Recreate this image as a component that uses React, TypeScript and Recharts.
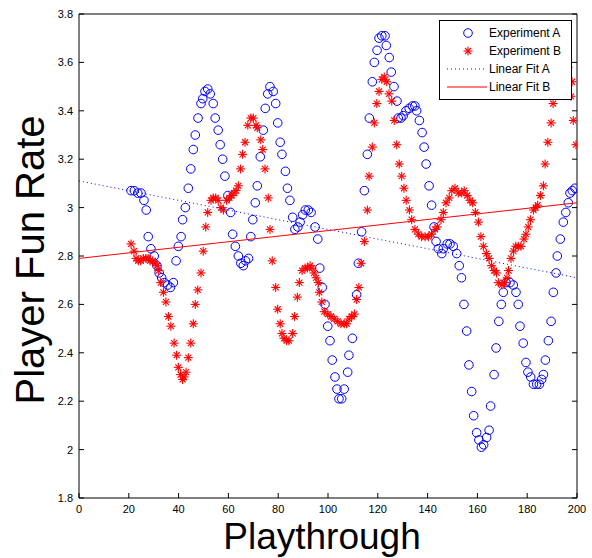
import { ScatterChart, Scatter, XAxis, YAxis, Legend } from "recharts";

// Experiment A: [playthrough, fun rate]
const expA: [number, number][] = [
  [20.9, 3.07], [22.2, 3.07], [23.6, 3.06], [24.9, 3.06], [26.1, 3.03], [27.0, 2.99], [27.8, 2.88], [28.9, 2.83],
  [30.2, 2.8], [31.3, 2.76], [32.2, 2.73], [33.2, 2.71], [34.3, 2.69], [35.6, 2.68], [36.7, 2.67], [37.9, 2.69],
  [39.0, 2.78], [39.9, 2.84], [41.0, 2.88], [41.6, 2.95], [42.7, 3.0], [43.9, 3.08], [44.9, 3.16], [45.9, 3.24],
  [46.7, 3.3], [47.8, 3.37], [49.0, 3.43], [49.7, 3.45], [50.6, 3.48], [51.7, 3.49], [52.7, 3.47], [53.9, 3.43],
  [54.7, 3.37], [55.9, 3.32], [56.7, 3.26], [57.7, 3.2], [58.6, 3.13], [59.8, 3.05], [60.9, 2.98], [61.7, 2.89],
  [62.8, 2.84], [64.0, 2.8], [65.0, 2.77], [66.0, 2.76], [66.9, 2.78], [68.1, 2.79], [69.0, 2.88], [69.8, 2.95],
  [70.8, 3.02], [71.6, 3.09], [72.8, 3.21], [74.0, 3.32], [74.8, 3.41], [75.8, 3.47], [76.7, 3.5], [78.0, 3.48],
  [79.0, 3.43], [79.8, 3.35], [80.8, 3.27], [81.5, 3.22], [82.9, 3.15], [83.7, 3.08], [84.7, 3.03], [85.8, 2.96],
  [86.7, 2.91], [87.9, 2.92], [88.8, 2.94], [89.8, 2.97], [90.9, 2.99], [92.1, 2.99], [93.2, 2.98], [94.8, 2.92],
  [95.9, 2.87], [96.7, 2.75], [97.7, 2.67], [98.8, 2.6], [99.9, 2.51], [100.8, 2.45], [101.7, 2.37], [102.8, 2.3],
  [103.6, 2.25], [104.4, 2.21], [105.5, 2.21], [106.5, 2.25], [107.9, 2.32], [108.4, 2.39], [109.8, 2.46], [111.5, 2.64],
  [112.2, 2.77], [113.5, 2.9], [114.6, 3.07], [115.8, 3.22], [116.6, 3.37], [117.8, 3.52], [118.6, 3.6], [119.7, 3.65],
  [120.5, 3.7], [121.6, 3.71], [122.9, 3.71], [123.4, 3.67], [124.6, 3.62], [125.4, 3.56], [126.5, 3.5], [127.7, 3.44],
  [128.2, 3.37], [129.3, 3.37], [130.2, 3.38], [131.3, 3.4], [132.6, 3.41], [133.9, 3.42], [134.9, 3.42], [135.6, 3.4],
  [136.7, 3.36], [137.8, 3.31], [138.6, 3.25], [139.4, 3.18], [140.6, 3.09], [141.6, 3.01], [142.6, 2.92], [143.4, 2.86],
  [144.3, 2.83], [145.7, 2.81], [146.3, 2.83], [147.9, 2.85], [149.0, 2.85], [150.3, 2.84], [151.7, 2.81], [152.7, 2.76],
  [153.6, 2.71], [154.6, 2.6], [155.7, 2.49], [156.6, 2.35], [157.7, 2.24], [158.5, 2.14], [159.7, 2.07], [160.6, 2.04],
  [161.6, 2.01], [162.5, 2.02], [163.7, 2.05], [164.7, 2.08], [165.3, 2.18], [166.7, 2.31], [167.5, 2.42], [168.6, 2.53],
  [169.6, 2.6], [170.4, 2.65], [171.5, 2.69], [173.1, 2.69], [174.4, 2.68], [175.5, 2.65], [176.4, 2.6], [177.1, 2.51],
  [178.4, 2.44], [179.5, 2.36], [180.3, 2.32], [181.4, 2.3], [182.5, 2.27], [183.8, 2.27], [184.9, 2.27], [185.8, 2.29],
  [186.5, 2.31], [187.3, 2.37], [188.5, 2.45], [189.6, 2.53], [190.5, 2.65], [191.6, 2.73], [192.1, 2.8], [193.3, 2.87],
  [194.5, 2.94], [195.5, 2.98], [196.5, 3.02], [197.2, 3.06], [198.1, 3.07], [199.2, 3.08],
];

// Experiment B: [playthrough, fun rate]
const expB: [number, number][] = [
  [20.9, 2.85], [22.1, 2.82], [22.9, 2.79], [23.8, 2.78], [24.8, 2.78], [25.8, 2.79], [26.9, 2.79], [27.8, 2.79],
  [28.5, 2.78], [29.6, 2.78], [30.6, 2.77], [31.4, 2.76], [32.0, 2.74], [32.8, 2.69], [33.9, 2.65], [34.9, 2.61],
  [35.9, 2.55], [36.9, 2.51], [38.2, 2.44], [39.2, 2.39], [39.9, 2.34], [40.8, 2.31], [41.6, 2.29], [42.2, 2.3],
  [43.0, 2.32], [43.9, 2.38], [44.9, 2.44], [45.9, 2.52], [46.7, 2.6], [47.7, 2.66], [49.0, 2.73], [49.9, 2.82],
  [50.9, 2.92], [51.7, 2.98], [53.0, 3.03], [53.9, 3.04], [54.9, 3.04], [55.9, 3.03], [57.0, 3.0], [58.0, 2.99],
  [59.3, 3.03], [60.4, 3.04], [61.3, 3.05], [62.2, 3.06], [63.1, 3.07], [64.0, 3.09], [64.9, 3.16], [65.7, 3.22],
  [66.7, 3.27], [67.8, 3.34], [69.0, 3.37], [70.0, 3.37], [71.1, 3.34], [71.6, 3.33], [73.0, 3.28], [73.8, 3.24],
  [74.7, 3.16], [76.0, 3.04], [76.7, 2.91], [77.6, 2.78], [79.0, 2.67], [79.8, 2.58], [80.8, 2.52], [81.5, 2.48],
  [82.3, 2.46], [83.4, 2.45], [84.3, 2.45], [85.8, 2.48], [86.6, 2.55], [87.7, 2.63], [88.5, 2.69], [89.6, 2.74],
  [90.8, 2.75], [91.7, 2.75], [92.8, 2.76], [93.6, 2.75], [94.4, 2.73], [95.2, 2.71], [96.1, 2.69], [96.5, 2.65],
  [97.5, 2.61], [98.5, 2.57], [99.9, 2.56], [101.2, 2.55], [102.5, 2.54], [103.9, 2.53], [105.2, 2.52], [106.5, 2.52],
  [107.5, 2.52], [108.4, 2.54], [109.5, 2.55], [110.6, 2.56], [111.5, 2.62], [112.4, 2.67], [113.3, 2.77], [114.6, 2.86],
  [115.8, 2.99], [116.5, 3.13], [117.8, 3.25], [118.6, 3.35], [119.6, 3.43], [120.5, 3.48], [121.6, 3.53], [122.6, 3.54],
  [123.6, 3.52], [124.5, 3.47], [125.6, 3.44], [126.6, 3.36], [127.6, 3.26], [128.6, 3.18], [129.6, 3.13], [130.5, 3.08],
  [131.4, 3.03], [132.7, 2.99], [133.6, 2.95], [134.9, 2.91], [136.3, 2.89], [137.6, 2.88], [139.0, 2.88], [140.3, 2.88],
  [141.6, 2.89], [143.0, 2.91], [143.9, 2.92], [145.4, 2.95], [146.3, 2.98], [147.4, 3.02], [148.7, 3.04], [149.7, 3.07],
  [151.0, 3.08], [152.3, 3.06], [153.7, 3.06], [154.7, 3.07], [155.9, 3.05], [157.0, 3.03], [158.1, 3.02], [159.2, 2.98],
  [160.4, 2.94], [161.4, 2.88], [162.4, 2.84], [163.6, 2.81], [164.7, 2.79], [165.7, 2.76], [166.7, 2.74], [167.7, 2.73],
  [168.4, 2.69], [169.8, 2.68], [170.9, 2.69], [171.9, 2.71], [172.5, 2.74], [173.5, 2.79], [174.5, 2.82], [175.4, 2.84],
  [176.4, 2.84], [177.5, 2.84], [178.7, 2.87], [179.5, 2.89], [180.4, 2.92], [181.3, 2.95], [182.5, 2.99], [183.4, 3.0],
  [184.2, 3.01], [185.3, 3.05], [186.5, 3.09], [187.2, 3.18], [188.3, 3.27], [189.6, 3.35], [190.4, 3.43], [191.6, 3.5],
  [193.2, 3.56], [194.8, 3.6], [196.4, 3.58], [198.0, 3.52], [197.6, 3.46], [198.5, 3.36], [199.6, 3.26],
];

// linear fits, end points at x = 0 and x = 200
const fitA: [number, number][] = [[0, 3.11], [200, 2.71]];
const fitB: [number, number][] = [[0, 2.79], [200, 3.02]];

const xTicks = [0, 20, 40, 60, 80, 100, 120, 140, 160, 180, 200];
const yTicks = [1.8, 2, 2.2, 2.4, 2.6, 2.8, 3, 3.2, 3.4, 3.6, 3.8];
const legendLabels = ["Experiment A", "Experiment B", "Linear Fit A", "Linear Fit B"];

const toPoints = (arr: [number, number][]) => arr.map(([x, y]) => ({ x, y }));

const font = "'Liberation Sans', Arial, sans-serif";
const BLUE = "#0000ff";
const RED = "#ff0000";

const Circle = (p: any) => (
  <circle cx={p.cx} cy={p.cy} r={4.3} fill="none" stroke={BLUE} strokeWidth={1} />
);

const Star = (p: any) => {
  const { cx, cy } = p;
  return (
    <g stroke={RED} strokeWidth={1.1}>
      <line x1={cx - 4.5} y1={cy} x2={cx + 4.5} y2={cy} />
      <line x1={cx} y1={cy - 4.5} x2={cx} y2={cy + 4.5} />
      <line x1={cx - 3} y1={cy - 3} x2={cx + 3} y2={cy + 3} />
      <line x1={cx - 3} y1={cy + 3} x2={cx + 3} y2={cy - 3} />
    </g>
  );
};

const NoDot = () => <g />;

const LegendBox = () => (
  <div
    style={{
      width: 131,
      height: 75,
      border: "1px solid #000",
      background: "#fff",
      fontFamily: font,
      fontSize: 12,
      color: "#000",
      paddingTop: 3,
      boxSizing: "content-box",
    }}
  >
    {legendLabels.map((label, i) => (
      <div key={label} style={{ display: "flex", alignItems: "center", height: 18 }}>
        <svg width={49} height={18} style={{ flex: "none" }}>
          {i === 0 && <Circle cx={28} cy={9} />}
          {i === 1 && <Star cx={28} cy={9} />}
          {i === 2 && <line x1={7} y1={9} x2={47} y2={9} stroke={BLUE} strokeDasharray="1 3" />}
          {i === 3 && <line x1={7} y1={9} x2={47} y2={9} stroke={RED} />}
        </svg>
        <span style={{ whiteSpace: "nowrap" }}>{label}</span>
      </div>
    ))}
  </div>
);

export default function App() {
  const tickStyle = { fill: "#000", fontSize: 11, fontFamily: font };
  return (
    <div style={{ position: "absolute", left: 0, top: 0, width: 592, height: 558, background: "#fff" }}>
      <ScatterChart width={592} height={558} margin={{ top: 13, right: 14, bottom: 59, left: 78 }}>
        <XAxis
          type="number"
          dataKey="x"
          domain={[0, 200]}
          ticks={xTicks}
          interval={0}
          allowDataOverflow
          height={1}
          tickSize={-5}
          tickMargin={12}
          axisLine={{ stroke: "#000" }}
          tickLine={{ stroke: "#000" }}
          tick={tickStyle}
        />
        <XAxis
          xAxisId="top"
          orientation="top"
          type="number"
          domain={[0, 200]}
          ticks={xTicks}
          interval={0}
          allowDataOverflow
          height={1}
          tickSize={-5}
          tickFormatter={() => ""}
          axisLine={{ stroke: "#000" }}
          tickLine={{ stroke: "#000" }}
        />
        <YAxis
          type="number"
          dataKey="y"
          domain={[1.8, 3.8]}
          ticks={yTicks}
          interval={0}
          allowDataOverflow
          width={1}
          tickSize={-5}
          tickMargin={11}
          axisLine={{ stroke: "#000" }}
          tickLine={{ stroke: "#000" }}
          tick={tickStyle}
          tickFormatter={(v: number) => String(v)}
        />
        <YAxis
          yAxisId="right"
          orientation="right"
          type="number"
          domain={[1.8, 3.8]}
          ticks={yTicks}
          interval={0}
          allowDataOverflow
          width={1}
          tickSize={-5}
          tickFormatter={() => ""}
          axisLine={{ stroke: "#000" }}
          tickLine={{ stroke: "#000" }}
        />
        <Scatter name="Experiment A" data={toPoints(expA)} shape={Circle} isAnimationActive={false} />
        <Scatter name="Experiment B" data={toPoints(expB)} shape={Star} isAnimationActive={false} />
        <Scatter
          name="Linear Fit A"
          data={toPoints(fitA)}
          shape={NoDot}
          line={{ stroke: BLUE, strokeWidth: 1, strokeDasharray: "1 3" }}
          isAnimationActive={false}
        />
        <Scatter
          name="Linear Fit B"
          data={toPoints(fitB)}
          shape={NoDot}
          line={{ stroke: RED, strokeWidth: 1 }}
          isAnimationActive={false}
        />
        <Legend
          layout="vertical"
          align="center"
          verticalAlign="middle"
          content={LegendBox}
          wrapperStyle={{ left: 439, top: 20, width: 133, height: 78 }}
        />
      </ScatterChart>
      <div
        style={{
          position: "absolute",
          left: 322,
          top: 537,
          transform: "translate(-50%, -50%)",
          fontFamily: font,
          fontSize: 37,
          whiteSpace: "nowrap",
          color: "#000",
        }}
      >
        Playthrough
      </div>
      <div
        style={{
          position: "absolute",
          left: 30,
          top: 260,
          transform: "translate(-50%, -50%) rotate(-90deg)",
          fontFamily: font,
          fontSize: 40,
          whiteSpace: "nowrap",
          color: "#000",
        }}
      >
        Player Fun Rate
      </div>
    </div>
  );
}
